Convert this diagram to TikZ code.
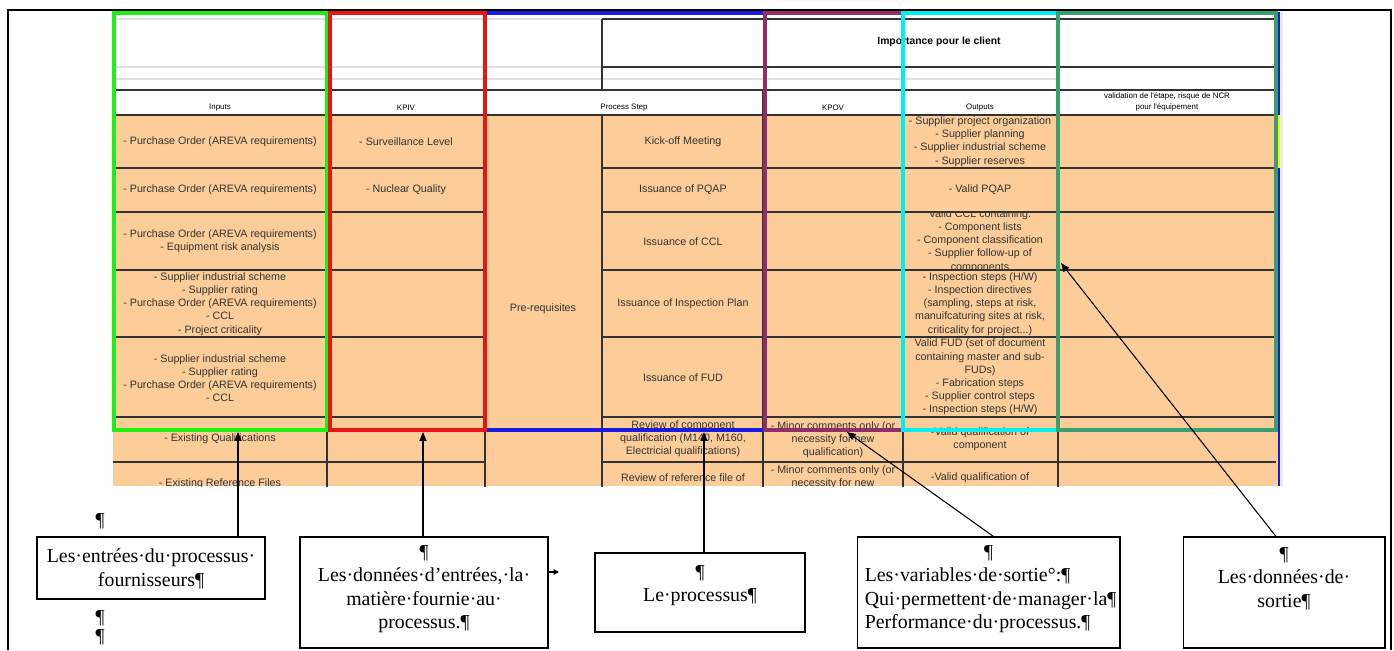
\documentclass[tikz,border=0pt]{standalone}
\usepackage{fontspec}
\setmainfont{Liberation Serif}
\newfontfamily\cellfont{Liberation Sans}
\usetikzlibrary{arrows.meta,calc}
\definecolor{peach}{RGB}{252,204,153}
\definecolor{boxgreen}{RGB}{30,240,20}
\definecolor{boxred}{RGB}{235,20,20}
\definecolor{boxblue}{RGB}{25,25,225}
\definecolor{boxplum}{RGB}{145,45,105}
\definecolor{boxcyan}{RGB}{0,240,240}
\definecolor{boxteal}{RGB}{55,160,110}
\tikzset{
  celltxt/.style={font=\cellfont\fontsize{6.1}{7.5}\selectfont, align=center, text=black!80, inner sep=0pt},
  headtxt/.style={font=\cellfont\fontsize{4.5}{6.2}\selectfont, align=center, inner sep=0pt},
  callbox/.style={draw, line width=0.6pt, inner sep=0pt},
  calltxt/.style={font=\fontsize{11.3}{13.3}\selectfont, align=center, inner sep=0pt, anchor=north},
  pointer/.style={line width=0.6pt, -{Triangle[length=5pt,width=4pt]}},
  grid/.style={line width=0.9pt, black!80},
  lightgrid/.style={line width=0.8pt, black!12},
  hilite/.style={line width=2.2pt}
}

\begin{document}
\begin{tikzpicture}[x=0.02cm,y=-0.02cm]
		\useasboundingbox (0,0) rectangle (1394,650);
		%%%%% PAGE FRAME %%%%%
		\draw[line width=1.2pt] (8,650) -- (8,10) -- (1391,10) -- (1391,650);
		
		%%%%% TABLE %%%%%
		\begin{scope}
		\clip (111,11) rectangle (1283,486);
		\fill[peach] (113,115) rectangle (1278,486);
		\draw[lightgrid] (113,19) -- (602,19);
		\draw[lightgrid] (113,67) -- (602,67);
		\draw[lightgrid] (113,79) -- (1058,79);
		\draw[lightgrid] (327,12) -- (327,90);
		\draw[grid] (602,19) -- (1276,19);
		\draw[grid] (602,67) -- (1276,67);
		\draw[grid] (602,19) -- (602,90);
		\draw[grid] (113,90) -- (1276,90);
		\draw[grid] (113,115) -- (1276,115);
		\foreach \y in {168,212,270,337,417,462} {
			\draw[grid] (113,\y) -- (485,\y);
			\draw[grid] (602,\y) -- (1276,\y);
		}
		\foreach \x in {327,485,763,903,1058} \draw[grid] (\x,90) -- (\x,490);
		\draw[grid] (602,115) -- (602,490);
		\draw[boxblue, line width=0.6pt] (1279,12) -- (1279,486);
		\draw[yellow, line width=0.6pt] (1279,115) -- (1279,168);
		\fill[black!8] (1280,12) rectangle (1283,486);
		
		% header
		\node[font=\cellfont\bfseries\fontsize{5.9}{7}\selectfont, inner sep=0pt] (himp) at (939,42) {Importance pour le client};
		\node[headtxt] (hin) at (220,108) {Inputs};
		\node[headtxt] (hkpiv) at (406,108) {KPIV};
		\node[headtxt] (hstep) at (624,108) {Process Step};
		\node[headtxt] (hkpov) at (833,108) {KPOV};
		\node[headtxt] (hout) at (980,108) {Outputs};
		\node[headtxt] (hval) at (1167,101.5) {validation de l'étape, risque de NCR\\pour l'équipement};
		
		% inputs
		\node[celltxt] (in1) at (220,141.5) {- Purchase Order (AREVA requirements)};
		\node[celltxt] (in2) at (220,190) {- Purchase Order (AREVA requirements)};
		\node[celltxt] (in3) at (220,241) {- Purchase Order (AREVA requirements)\\- Equipment risk analysis};
		\node[celltxt] (in4) at (220,304) {- Supplier industrial scheme\\- Supplier rating\\- Purchase Order (AREVA requirements)\\- CCL\\- Project criticality};
		\node[celltxt] (in5) at (220,378) {- Supplier industrial scheme\\- Supplier rating\\- Purchase Order (AREVA requirements)\\- CCL};
		\node[celltxt] (in6) at (220,439) {- Existing Qualifications};
		\node[celltxt] (in7) at (220,484) {- Existing Reference Files};
		
		% KPIV
		\node[celltxt] (kpiv1) at (406,141.5) {- Surveillance Level};
		\node[celltxt] (kpiv2) at (406,190) {- Nuclear Quality};
		
		% process steps
		\node[celltxt] (prereq) at (543,309) {Pre-requisites};
		\node[celltxt] (step1) at (683,141.5) {Kick-off Meeting};
		\node[celltxt] (step2) at (683,190) {Issuance of PQAP};
		\node[celltxt] (step3) at (683,242) {Issuance of CCL};
		\node[celltxt] (step4) at (683,304) {Issuance of Inspection Plan};
		\node[celltxt] (step5) at (683,378) {Issuance of FUD};
		\node[celltxt] (step6) at (683,439) {Review of component\\qualification (M140, M160,\\Electricial qualifications)};
		\node[celltxt] (step7) at (683,478) {Review of reference file of};
		
		% KPOV
		\node[celltxt] (kpov6) at (833,440) {- Minor comments only (or\\necessity for new\\qualification)};
		\node[celltxt] (kpov7) at (833,477) {- Minor comments only (or\\necessity for new};
		
		% outputs
		\node[celltxt] (out1) at (980,141.5) {- Supplier project organization\\- Supplier planning\\- Supplier industrial scheme\\- Supplier reserves};
		\node[celltxt] (out2) at (980,190) {- Valid PQAP};
		\begin{scope}
			\clip (903,213) rectangle (1058,269);
			\node[celltxt] (out3) at (980,241) {Valid CCL containing:\\- Component lists\\- Component classification\\- Supplier follow-up of\\components};
		\end{scope}
		\node[celltxt] (out4) at (980,304) {- Inspection steps (H/W)\\- Inspection directives\\(sampling, steps at risk,\\manuifcaturing sites at risk,\\criticality for project...)};
		\node[celltxt] (out5) at (980,377) {Valid FUD (set of document\\containing master and sub-\\FUDs)\\- Fabrication steps\\- Supplier control steps\\- Inspection steps (H/W)};
		\node[celltxt] (out6) at (980,439) {-Valid qualification of\\component};
		\node[celltxt] (out7) at (980,478) {-Valid qualification of};
		
		% coloured frames
		\draw[hilite, boxgreen] (114,13) rectangle (327,430);
		\draw[hilite, boxblue] (764,13) -- (485,13) -- (485,430) -- (764,430);
		\draw[hilite, boxred] (330,13) rectangle (485,430);
		\draw[hilite, boxplum] (765,13) rectangle (903,430);
		\draw[hilite, boxcyan] (903,13) rectangle (1058,430);
		\draw[hilite, boxteal] (1058,13) rectangle (1276,430);
		\end{scope}
		
		%%%%% CALLOUTS %%%%%
		\node[callbox, minimum width=4.56cm, minimum height=1.24cm] (box1) at (151,568) {};
		\node[callbox, minimum width=4.96cm, minimum height=2.22cm] (box2) at (424,592.5) {};
		\node[callbox, minimum width=4.2cm, minimum height=1.58cm] (box3) at (700,592.5) {};
		\node[callbox, minimum width=5.26cm, minimum height=2.22cm] (box4) at (988.5,592.5) {};
		\node[callbox, minimum width=4.04cm, minimum height=2.22cm] (box5) at (1284,592.5) {};
		
		\node[calltxt, yshift=-7pt] (txt1) at (box1.north) {Les·entrées·du·processus·\\fournisseurs¶};
		\node[calltxt, yshift=-5pt] (txt2) at (box2.north) {¶\\Les·données·d’entrées,·la·\\matière·fournie·au·\\processus.¶};
		\node[calltxt, yshift=-7pt] (txt3) at (box3.north) {¶\\Le·processus¶};
		\node[calltxt, yshift=-5pt, align=left, text width=4.95cm] (txt4) at (box4.north) {\makebox[\hsize]{¶}\\Les·variables·de·sortie°:¶\\Qui·permettent·de·manager·la¶\\Performance·du·processus.¶};
		\node[calltxt, yshift=-6pt] (txt5) at (box5.north) {¶\\Les·données·de·\\sortie¶};
		
		\node[calltxt, anchor=center] (pil1) at (100,521) {¶};
		\node[calltxt, anchor=center] (pil2) at (100,618) {¶};
		\node[calltxt, anchor=center] (pil3) at (100,637) {¶};
		
		% pointers
		\coordinate (tipin) at (238,432);
		\coordinate (tipkpiv) at (423,432);
		\coordinate (tipstep) at (704,432);
		\coordinate (tipkpov) at (847,432);
		\coordinate (tipout) at (1061,263);
		\coordinate (sidetip) at (559,572);
		\draw[pointer] (box1.north -| tipin) -- (tipin);
		\draw[pointer] (box2.north -| tipkpiv) -- (tipkpiv);
		\draw[pointer] (box3.north -| tipstep) -- (tipstep);
		\draw[pointer] ($(box4.north)+(5,0)$) -- (tipkpov);
		\draw[pointer] ($(box5.north)+(-8,0)$) -- (tipout);
		\draw[line width=0.6pt, -{Triangle[length=3pt,width=3pt]}] (box2.east |- sidetip) -- (sidetip);
	\end{tikzpicture}
\end{document}
